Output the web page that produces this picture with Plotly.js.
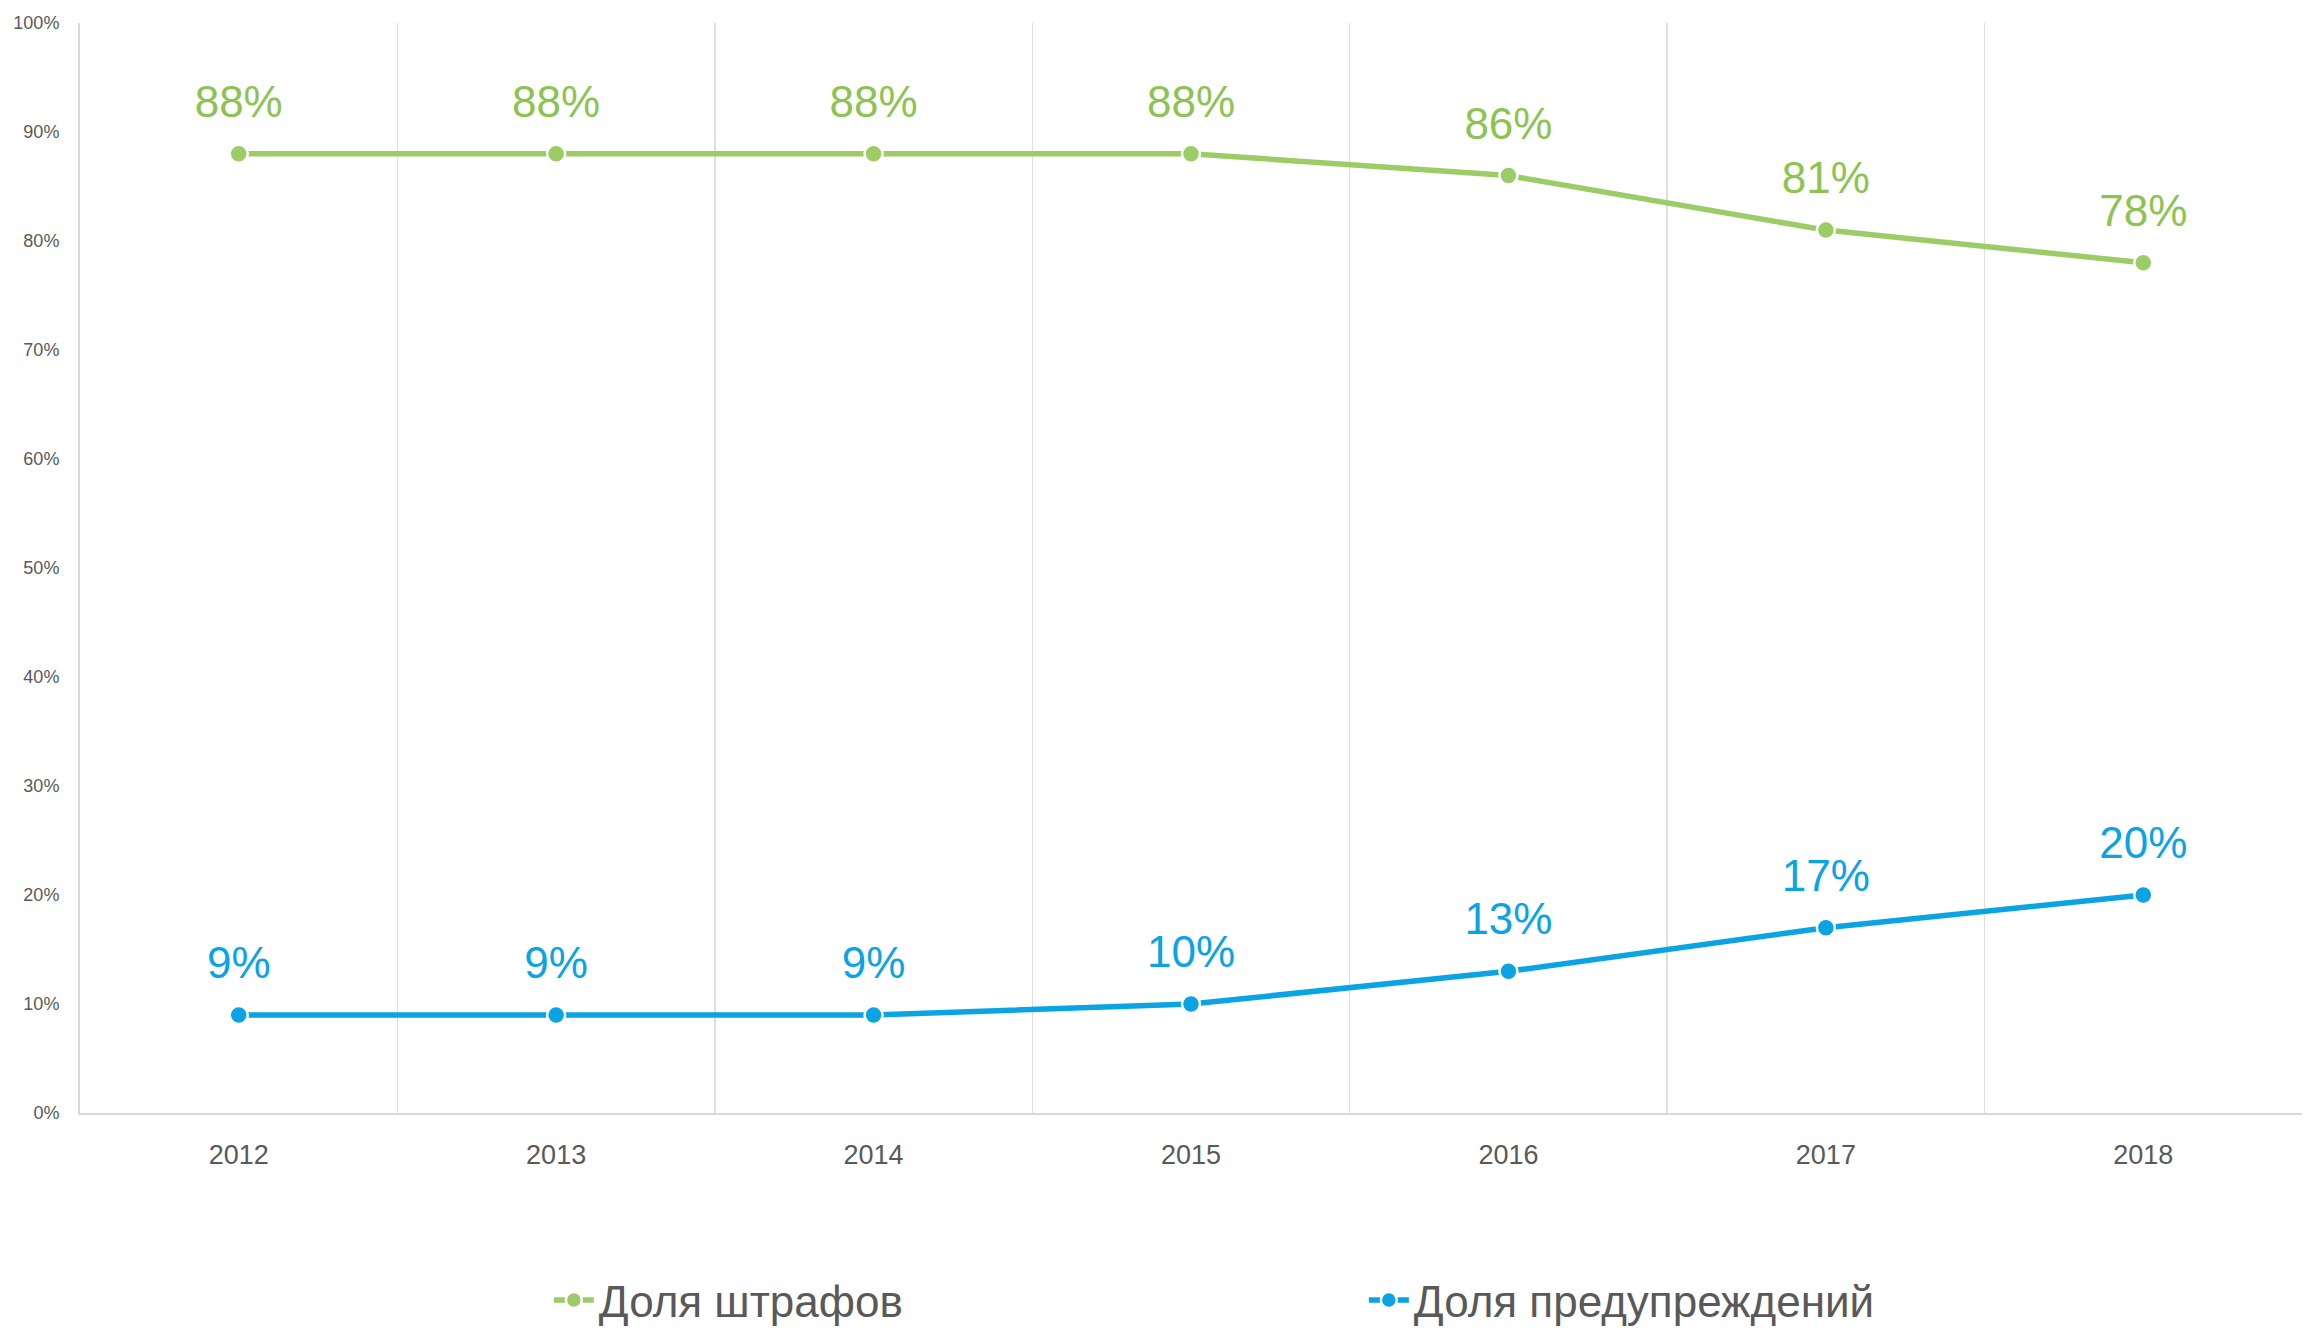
<!DOCTYPE html>
<html>
<head>
<meta charset="utf-8">
<script src="https://cdn.plot.ly/plotly-3.0.1.min.js"></script>
<style>
html, body { margin: 0; padding: 0; background: #ffffff; }
#chart { width: 2303px; height: 1331px; }
</style>
</head>
<body>
<div id="chart"></div>
<script>
const years = ["2012", "2013", "2014", "2015", "2016", "2017", "2018"];
const finesShare = [88, 88, 88, 88, 86, 81, 78];
const warningsShare = [9, 9, 9, 10, 13, 17, 20];
const seriesNames = ["Доля штрафов", "Доля предупреждений"];
const yTickValues = [0, 10, 20, 30, 40, 50, 60, 70, 80, 90, 100];

const FONT = "'Liberation Sans Narrow', 'Arial Narrow', 'Liberation Sans', Arial, sans-serif";
const GREEN = "#9ccc65";
const GREEN_TXT = "#8dc352";
const BLUE = "#0aa3e3";

function series(name, vals, color) {
  return {
    type: "scatter",
    mode: "lines+markers",
    name: name,
    x: years,
    y: vals,
    line: { color: color, width: 5.5 },
    marker: { color: color, size: 18, line: { color: "#ffffff", width: 2.5 } },
    cliponaxis: false,
    hoverinfo: "skip"
  };
}

function labelTrace(vals, color) {
  return {
    type: "scatter",
    mode: "markers+text",
    x: years,
    y: vals,
    text: vals.map(v => v + "%"),
    textposition: "top center",
    textfont: { family: FONT, size: 44, color: color },
    marker: { size: 40, color: "rgba(0,0,0,0)" },
    showlegend: false,
    cliponaxis: false,
    hoverinfo: "skip"
  };
}

const data = [
  series(seriesNames[0], finesShare, GREEN),
  series(seriesNames[1], warningsShare, BLUE),
  labelTrace(finesShare, GREEN_TXT),
  labelTrace(warningsShare, BLUE)
];

const layout = {
  width: 2303,
  height: 1331,
  paper_bgcolor: "#ffffff",
  plot_bgcolor: "#ffffff",
  margin: { l: 80, r: 1, t: 23, b: 218, autoexpand: false },
  font: { family: FONT, color: "#595959" },
  showlegend: true,
  legend: {
    orientation: "h",
    x: 0.211,
    xanchor: "left",
    y: -0.172,
    yanchor: "middle",
    font: { family: FONT, size: 44, color: "#595959" },
    entrywidth: 760,
    itemwidth: 40,
    traceorder: "normal"
  },
  xaxis: {
    type: "category",
    range: [-0.5, 6.5],
    tickson: "boundaries",
    ticks: "",
    showgrid: true,
    gridcolor: "#dedede",
    gridwidth: 1.5,
    showline: true,
    linecolor: "#d9d9d9",
    linewidth: 2,
    tickfont: { family: FONT, size: 27, color: "#595959" },
    ticklabelstandoff: 17,
    zeroline: false,
    fixedrange: true
  },
  yaxis: {
    range: [0, 100],
    tickvals: yTickValues,
    ticktext: yTickValues.map(v => v + "%"),
    showgrid: false,
    showline: true,
    linecolor: "#d9d9d9",
    linewidth: 2,
    ticks: "",
    tickfont: { family: FONT, size: 18, color: "#595959" },
    ticklabelstandoff: 15,
    zeroline: false,
    fixedrange: true
  }
};

Plotly.newPlot("chart", data, layout, { displayModeBar: false, staticPlot: true });
</script>
</body>
</html>
